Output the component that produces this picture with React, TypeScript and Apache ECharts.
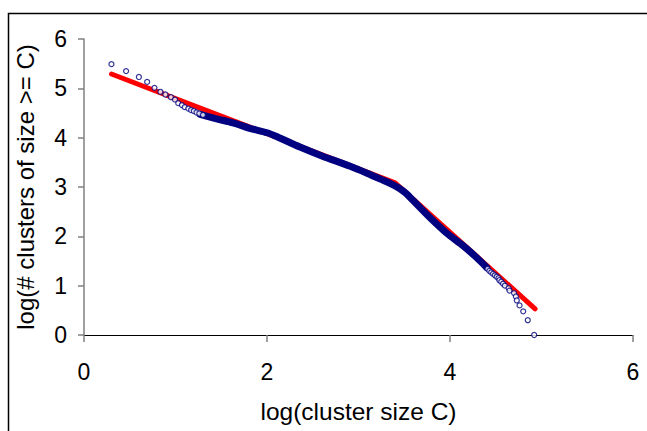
import React, { useEffect, useRef } from "react";
import * as echarts from "echarts";

// Discrete points at small cluster sizes
const headX = [0.3, 0.46, 0.6, 0.69, 0.77, 0.835, 0.89, 0.95, 0.995, 1.03, 1.07, 1.1, 1.14, 1.17, 1.2, 1.23, 1.26, 1.3];
const headY = [5.49, 5.35, 5.23, 5.13, 5.01, 4.93, 4.875, 4.82, 4.77, 4.7, 4.66, 4.62, 4.59, 4.56, 4.54, 4.51, 4.49, 4.46];

// Dense region of the cumulative distribution (read along the band)
const bandX = [1.27, 1.45, 1.63, 1.81, 2.0, 2.12, 2.36, 2.6, 2.91, 3.13, 3.24, 3.35, 3.44, 3.52, 3.6, 3.78, 3.96, 4.15, 4.29, 4.4];
const bandY = [4.47, 4.38, 4.3, 4.19, 4.1, 4.01, 3.81, 3.63, 3.42, 3.25, 3.16, 3.07, 2.98, 2.87, 2.72, 2.38, 2.07, 1.8, 1.57, 1.37];

// Discrete points in the tail
const tailX = [4.41, 4.43, 4.45, 4.47, 4.49, 4.51, 4.53, 4.54, 4.56, 4.58, 4.6, 4.64, 4.65, 4.7, 4.72, 4.73, 4.76, 4.8, 4.85, 4.92];
const tailY = [1.34, 1.3, 1.27, 1.24, 1.21, 1.18, 1.15, 1.11, 1.08, 1.04, 1.0, 0.95, 0.9, 0.85, 0.78, 0.7, 0.6, 0.48, 0.3, 0.0];

// Piecewise linear fit (red)
const fitX = [0.3, 3.4, 4.93];
const fitY = [5.29, 3.085, 0.53];

const xTicks = [0, 2, 4, 6];
const yTicks = [0, 1, 2, 3, 4, 5, 6];

const FONT = "Liberation Sans, Arial, sans-serif";
const NAVY = "#000080";

export default function App() {
  const ref = useRef<HTMLDivElement>(null);

  useEffect(() => {
    if (!ref.current) return;
    const chart = echarts.init(ref.current, undefined, { renderer: "svg" });
    const zip = (xs: number[], ys: number[]) => xs.map((x, i) => [x, ys[i]]);
    const circleStyle = { color: "#ffffff", borderColor: NAVY, borderWidth: 1.2 };

    chart.setOption({
      animation: false,
      backgroundColor: "#ffffff",
      grid: { left: 84, right: 14, top: 39, bottom: 96 },
      xAxis: {
        type: "value",
        min: xTicks[0],
        max: xTicks[xTicks.length - 1],
        interval: 2,
        name: "log(cluster size C)",
        nameLocation: "middle",
        nameGap: 64,
        nameTextStyle: { fontFamily: FONT, fontSize: 24.5, color: "#000" },
        axisLine: { show: true, onZero: false, lineStyle: { color: "#000", width: 1.2 } },
        axisTick: { show: true, inside: false, length: 7, lineStyle: { color: "#808080", width: 1.5 } },
        axisLabel: { fontFamily: FONT, fontSize: 23, color: "#000", margin: 25 },
        splitLine: { show: false },
      },
      yAxis: {
        type: "value",
        min: yTicks[0],
        max: yTicks[yTicks.length - 1],
        interval: 1,
        name: "log(# clusters of size >= C)",
        nameLocation: "middle",
        nameGap: 47,
        nameRotate: 90,
        nameTextStyle: { fontFamily: FONT, fontSize: 24, color: "#000" },
        axisLine: { show: true, onZero: false, lineStyle: { color: "#808080", width: 1.5 } },
        axisTick: { show: true, inside: false, length: 6, lineStyle: { color: "#808080", width: 1.5 } },
        axisLabel: { fontFamily: FONT, fontSize: 23, color: "#000", margin: 17 },
        splitLine: { show: false },
      },
      graphic: [
        {
          type: "rect",
          shape: { x: 8.5, y: 13.5, width: 660, height: 440 },
          style: { fill: "none", stroke: "#000", lineWidth: 1.5 },
          silent: true,
        },
      ],
      series: [
        {
          type: "line",
          data: zip(fitX, fitY),
          showSymbol: false,
          lineStyle: { color: "#ff0000", width: 5, cap: "round", join: "round" },
          z: 2,
        },
        {
          type: "line",
          data: zip(bandX, bandY),
          showSymbol: false,
          smooth: 0.3,
          lineStyle: { color: NAVY, width: 7, cap: "round", join: "round" },
          z: 3,
        },
        {
          type: "scatter",
          data: zip(headX, headY),
          symbol: "circle",
          symbolSize: 5,
          itemStyle: circleStyle,
          z: 4,
        },
        {
          type: "scatter",
          data: zip(tailX, tailY),
          symbol: "circle",
          symbolSize: 5,
          itemStyle: circleStyle,
          z: 4,
        },
      ],
    });
    return () => chart.dispose();
  }, []);

  return (
    <div
      ref={ref}
      style={{ position: "absolute", left: 0, top: 0, width: 647, height: 431, background: "#fff" }}
    />
  );
}
